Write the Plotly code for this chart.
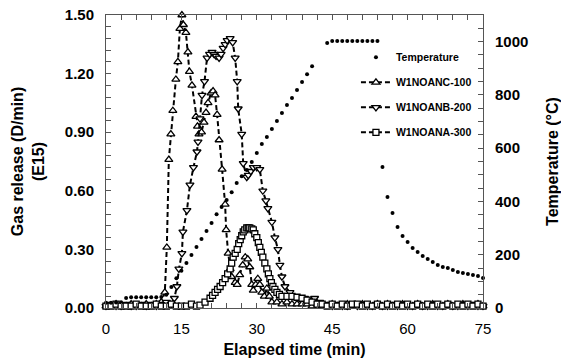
import plotly.graph_objects as go

# ---------------- data ----------------
temp_time = [0, 1, 2, 3, 4, 5, 6, 7, 8, 9, 10, 11, 12, 13, 14, 15, 16, 17, 18, 19, 20,
             21, 22, 23, 24, 25, 26, 27, 28, 29, 30, 31, 32, 33, 34, 35, 36, 37, 38, 39, 40, 41,
             44, 45, 46, 47, 48, 49, 50, 51, 52, 53, 54,
             55, 56, 57, 58, 59, 60, 61, 62, 63, 64, 65, 66, 67, 68, 69, 70, 71, 72, 73, 74, 75]
temp_c = [20, 20, 21, 22, 38, 40, 40, 40, 40, 40, 40, 41, 50, 79, 112, 140, 169, 199, 229, 259, 289,
          319, 352, 379, 405, 435, 469, 495, 518, 548, 582, 616, 642, 672, 702, 732, 762, 788, 818, 848, 878, 908,
          995, 1002, 1002, 1002, 1002, 1002, 1002, 1002, 1002, 1002, 1002,
          529, 417, 357, 304, 270, 248, 225, 210, 195, 184, 173, 161, 154, 150, 143, 135, 131, 128, 124, 120, 113]

c100_time = [0, 1, 2, 3, 4, 5, 6, 7, 8, 9, 10, 11, 11.7, 12.1, 12.5, 12.9, 13.3, 13.9, 14.3, 14.7,
             15.1, 15.4, 15.9, 16.3, 16.6, 17.1, 17.9, 18.2, 18.5, 19.0, 19.5, 19.9, 20.3, 20.9,
             21.3, 21.7, 22.1, 22.5, 23.1, 23.7, 23.9, 24.3, 24.7, 25.0, 25.7, 26.1, 26.6, 27.2,
             27.7, 28.2, 28.6, 29.0, 29.3, 29.8, 30.2, 30.6, 31.0, 31.5, 32.0, 32.5, 33.0,
             34, 35, 36, 37, 38, 39, 40, 41, 42, 43, 44, 45, 46, 47, 48, 49, 50, 51, 52, 53, 54,
             55, 56, 57, 58, 59, 60, 61, 62, 63, 64, 65, 66, 67, 68, 69, 70, 71, 72, 73, 74, 75]
c100_val = [0.01, 0.01, 0.02, 0.01, 0.01, 0.02, 0.01, 0.01, 0.02, 0.01, 0.02, 0.03, 0.08, 0.31, 0.76, 0.89,
            1.01, 1.17, 1.26, 1.43, 1.50, 1.45, 1.41, 1.31, 1.21, 1.14, 0.98, 0.93, 0.89, 0.90, 0.95,
            1.00, 1.05, 1.10, 1.11, 1.09, 0.99, 0.86, 0.71, 0.53, 0.40, 0.28, 0.20, 0.16, 0.13, 0.12,
            0.17, 0.22, 0.26, 0.25, 0.21, 0.12, 0.09, 0.12, 0.15, 0.12, 0.08, 0.06, 0.10, 0.06, 0.03,
            0.03, 0.02, 0.03, 0.02, 0.02, 0.02, 0.02, 0.01, 0.02, 0.01, 0.01, 0.02, 0.01, 0.01, 0.02,
            0.01, 0.01, 0.02, 0.01, 0.01, 0.02, 0.01, 0.02, 0.01, 0.01, 0.02, 0.01, 0.01, 0.02, 0.01,
            0.01, 0.02, 0.01, 0.01, 0.02, 0.01, 0.01, 0.02, 0.01, 0.01, 0.02, 0.01]

b200_time = [0, 1, 2, 3, 4, 5, 6, 7, 8, 9, 10, 11, 12, 13, 13.6, 14.1, 14.5, 15.1, 15.3, 16.1, 16.7,
             17.4, 18.1, 18.3, 18.7, 19.1, 19.6, 20.1, 20.6, 21.1, 21.5, 21.9, 22.5, 22.9, 23.3,
             23.7, 24.1, 24.7, 25.2, 25.7, 26.1, 26.3, 27.0, 27.3, 28.0, 28.3, 28.8, 29.3, 30.0,
             30.6, 31.2, 31.8, 32.2, 33.0, 33.6, 34.2, 34.6, 35.0, 35.6, 36.6, 37.5, 38.5, 39.5,
             40.5, 41.5, 42.5, 44, 45, 46, 47, 48, 49, 50, 51, 52, 53, 54, 55, 56, 57, 58, 59, 60,
             61, 62, 63, 64, 65, 66, 67, 68, 69, 70, 71, 72, 73, 74, 75]
b200_val = [0.01, 0.02, 0.01, 0.01, 0.02, 0.01, 0.01, 0.02, 0.01, 0.02, 0.01, 0.02, 0.03, 0.02, 0.05,
            0.11, 0.20, 0.28, 0.39, 0.50, 0.63, 0.72, 0.80, 0.85, 0.97, 1.09, 1.16, 1.28, 1.30, 1.31,
            1.30, 1.29, 1.28, 1.30, 1.33, 1.35, 1.37, 1.38, 1.36, 1.28, 1.16, 1.02, 0.89, 0.74, 0.67,
            0.68, 0.70, 0.72, 0.72, 0.71, 0.60, 0.55, 0.51, 0.44, 0.36, 0.30, 0.22, 0.16, 0.11, 0.08,
            0.06, 0.05, 0.05, 0.04, 0.05, 0.03, 0.02, 0.01, 0.02, 0.01, 0.01, 0.02, 0.01, 0.02, 0.01,
            0.01, 0.02, 0.01, 0.01, 0.02, 0.01, 0.02, 0.01, 0.01, 0.02, 0.01, 0.01, 0.02, 0.01, 0.01,
            0.02, 0.01, 0.01, 0.02, 0.01, 0.02, 0.01, 0.01]

a300_time = [0, 1, 2, 3, 4, 5, 6, 7, 8, 9, 10, 11, 12, 13, 14, 15, 16, 17, 18, 18.7, 19.7, 20.7,
             21.2, 21.7, 22.2, 22.7, 23.2, 23.7, 24.2, 24.7, 25.0, 25.3, 25.7, 26.1, 26.4, 26.7,
             27.0, 27.3, 27.6, 28.0, 28.3, 28.6, 29.0, 29.3, 29.6, 30.0, 30.3, 30.6, 30.9, 31.2,
             31.6, 32.0, 32.3, 32.6, 32.9, 33.2, 33.6, 34.0, 34.5, 35, 36, 37, 38, 39, 40, 41, 42,
             43, 44, 45, 46, 47, 48, 49, 50, 51, 52, 53, 54, 55, 56, 57, 58, 59, 60, 61, 62, 63,
             64, 65, 66, 67, 68, 69, 70, 71, 72, 73, 74, 75]
a300_val = [0.01, 0.01, 0.02, 0.01, 0.01, 0.01, 0.02, 0.01, 0.01, 0.01, 0.02, 0.01, 0.01, 0.02, 0.01,
            0.01, 0.01, 0.02, 0.01, 0.015, 0.03, 0.05, 0.065, 0.08, 0.095, 0.11, 0.13, 0.15, 0.175,
            0.20, 0.23, 0.26, 0.28, 0.30, 0.33, 0.35, 0.37, 0.39, 0.40, 0.41, 0.41, 0.41, 0.405,
            0.40, 0.38, 0.36, 0.335, 0.31, 0.285, 0.26, 0.23, 0.20, 0.175, 0.15, 0.13, 0.11, 0.095,
            0.08, 0.07, 0.06, 0.06, 0.06, 0.055, 0.05, 0.04, 0.03, 0.02, 0.02, 0.01, 0.02, 0.01,
            0.02, 0.01, 0.02, 0.02, 0.01, 0.02, 0.01, 0.02, 0.01, 0.02, 0.01, 0.02, 0.01, 0.02,
            0.01, 0.02, 0.01, 0.02, 0.01, 0.02, 0.01, 0.02, 0.01, 0.02, 0.01, 0.02, 0.01, 0.02,
            0.01, 0.02]

x_ticks = [0, 15, 30, 45, 60, 75]

# ---------------- figure ----------------
FONT = "Liberation Sans, Arial, sans-serif"
AX = "#555555"
dash = "5px,3px"

fig = go.Figure()
fig.add_trace(go.Scatter(
    x=temp_time, y=temp_c, yaxis="y2", mode="markers", name="<b>Temperature</b>",
    marker=dict(symbol="circle", size=4, color="black"), cliponaxis=False,
    legendgroup="g1"))
fig.add_trace(go.Scatter(
    x=c100_time, y=c100_val, mode="lines+markers", name="<b>W1NOANC-100</b>",
    line=dict(color="black", width=2, dash=dash),
    marker=dict(symbol="triangle-up", size=7, color="white", line=dict(color="black", width=1.3)),
    cliponaxis=False, legendgroup="g2"))
fig.add_trace(go.Scatter(
    x=b200_time, y=b200_val, mode="lines+markers", name="<b>W1NOANB-200</b>",
    line=dict(color="black", width=2, dash=dash),
    marker=dict(symbol="triangle-down", size=7, color="white", line=dict(color="black", width=1.3)),
    cliponaxis=False, legendgroup="g3"))
fig.add_trace(go.Scatter(
    x=a300_time, y=a300_val, mode="lines+markers", name="<b>W1NOANA-300</b>",
    line=dict(color="black", width=2, dash=dash),
    marker=dict(symbol="square", size=6, color="white", line=dict(color="black", width=1.3)),
    cliponaxis=False, legendgroup="g4"))

tickfont = dict(family=FONT, size=15, color="black")
titlefont = dict(family=FONT, size=16, color="black")

fig.update_layout(
    width=561, height=358,
    margin=dict(l=106, r=78, t=15, b=50, autoexpand=False),
    paper_bgcolor="white", plot_bgcolor="white",
    font=dict(family=FONT, color="black"),
    showlegend=True,
    legend=dict(x=0.663, y=0.905, xanchor="left", yanchor="top",
                bgcolor="rgba(0,0,0,0)", font=dict(family=FONT, size=10.5, color="black"),
                tracegroupgap=6, itemwidth=30, traceorder="grouped", itemsizing="trace"),
    xaxis=dict(range=[0, 75], tickvals=x_ticks, ticks="inside", ticklen=5, tickcolor=AX,
               showline=True, linecolor=AX, linewidth=1, mirror="ticks", showgrid=False,
               zeroline=False, tickfont=tickfont, ticklabelstandoff=7,
               tickprefix="<b>", ticksuffix="</b>",
               minor=dict(dtick=3, ticks="inside", ticklen=5, tickcolor=AX, showgrid=False),
               title=dict(text="<b>Elapsed time (min)</b>", font=titlefont, standoff=7)),
    yaxis=dict(range=[0, 1.5], dtick=0.3, tick0=0, tickformat=".2f", ticks="inside", ticklen=5,
               tickcolor=AX, showline=True, linecolor=AX, linewidth=1, mirror=False,
               showgrid=False, zeroline=False, tickfont=tickfont, ticklabelstandoff=8,
               tickprefix="<b>", ticksuffix="</b>",
               minor=dict(dtick=0.06, ticks="inside", ticklen=5, tickcolor=AX, showgrid=False),
               title=dict(text="<b>Gas release (D/min)<br>(E15)</b>", font=titlefont, standoff=16)),
    yaxis2=dict(range=[0, 1100], dtick=200, tick0=0, overlaying="y", side="right",
                ticks="inside", ticklen=5, tickcolor=AX, showline=True, linecolor=AX, linewidth=1,
                showgrid=False, zeroline=False, tickfont=tickfont, ticklabelstandoff=8,
                tickprefix="<b>", ticksuffix="</b>",
                minor=dict(dtick=50, ticks="inside", ticklen=5, tickcolor=AX, showgrid=False),
                title=dict(text="<b>Temperature (°C)</b>", font=titlefont, standoff=19)),
)

fig.write_html("out.html")
